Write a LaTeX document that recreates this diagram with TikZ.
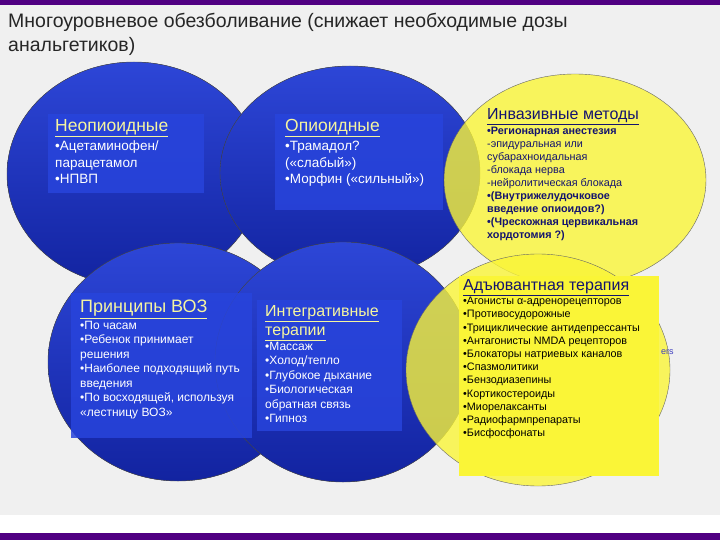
\documentclass[tikz,border=0pt]{standalone}
\usepackage{fontspec}
\setmainfont{Liberation Sans}
\begin{document}
\begin{tikzpicture}[x=1pt,y=-1pt,
  blob/.style={draw=black!70,line width=0.4pt,top color=blueT,bottom color=blueB},
  ybl/.style={draw=black!60,line width=0.4pt,fill=yel,fill opacity=0.8},
  bbox/.style={fill=boxblue,fill opacity=0.85,draw=none},
  wtxt/.style={anchor=north west,align=left,text=white,inner sep=0pt},
  htxt/.style={anchor=north west,align=left,text=headyel,inner sep=0pt},
]
\definecolor{blueT}{RGB}{45,70,215}
\definecolor{blueB}{RGB}{18,35,160}
\definecolor{boxblue}{RGB}{40,68,220}
\definecolor{yel}{RGB}{250,245,55}
\definecolor{headyel}{RGB}{245,245,160}
\definecolor{navy}{RGB}{20,20,110}
\definecolor{purp}{RGB}{80,0,130}
\useasboundingbox (0,0) rectangle (720,540);
\fill[white] (0,0) rectangle (720,540);
\fill[black!6] (0,5) rectangle (720,515);
\fill[purp] (0,0) rectangle (720,5);
\fill[purp] (0,533) rectangle (720,540);
\node[anchor=north west,align=left,inner sep=0pt,font=\fontsize{19.5}{24}\selectfont,text=black!85] (title) at (8,13)
 {Многоуровневое обезболивание (снижает необходимые дозы\\анальгетиков)};
% blue circles
\fill[blob] (134,174) ellipse [x radius=127,y radius=112];
\fill[blob] (350,173) ellipse [x radius=130,y radius=107];
\fill[blob] (178,362) ellipse [x radius=130,y radius=119];
\fill[blob] (343,362) ellipse [x radius=128,y radius=120];
% boxes
\fill[bbox] (48,114) rectangle (204,193);
\fill[bbox] (275,114) rectangle (443,210);
\fill[bbox] (71,293) rectangle (252,438);
\fill[bbox] (257,300) rectangle (402,431);
% yellow
\filldraw[ybl] (575,180) ellipse [x radius=131,y radius=106];
\filldraw[ybl] (538,370) ellipse [x radius=132,y radius=116];
\fill[yel] (459,276) rectangle (659,476);
% texts
\node[htxt,font=\fontsize{17.5}{20}\selectfont] (h1) at (55,119) {\underline{Неопиоидные}};
\node[wtxt,font=\fontsize{13.5}{16.5}\selectfont] (t1) at (55,141) {•Ацетаминофен/\\парацетамол\\•НПВП};
\node[htxt,font=\fontsize{17.5}{20}\selectfont] (h2) at (285,119) {\underline{Опиоидные}};
\node[wtxt,font=\fontsize{13.5}{16.5}\selectfont] (t2) at (285,141) {•Трамадол?\\(«слабый»)\\•Морфин («сильный»)};
\node[htxt,text=navy,font=\fontsize{16}{18}\selectfont] (h3) at (487,108) {\underline{Инвазивные методы}};
\node[wtxt,text=navy,font=\fontsize{10.8}{13}\selectfont] (t3) at (487,127)
 {\textbf{•Регионарная анестезия}\\-эпидуральная или\\субарахноидальная\\-блокада нерва\\-нейролитическая блокада\\\textbf{•(Внутрижелудочковое}\\\textbf{введение опиоидов?)}\\\textbf{•(Чрескожная цервикальная}\\\textbf{хордотомия ?)}};
\node[htxt,text=navy,font=\fontsize{16}{18}\selectfont] (h6) at (463,279) {\underline{Адъювантная терапия}};
\node[wtxt,text=black,font=\fontsize{10.8}{13.2}\selectfont] (t6) at (463,297)
 {•Агонисты α-адренорецепторов\\•Противосудорожные\\•Трициклические антидепрессанты\\•Антагонисты NMDA рецепторов\\•Блокаторы натриевых каналов\\•Спазмолитики\\•Бензодиазепины\\•Кортикостероиды\\•Миорелаксанты\\•Радиофармпрепараты\\•Бисфосфонаты};
\node[htxt,font=\fontsize{18}{20}\selectfont] (h4) at (80,300) {\underline{Принципы ВОЗ}};
\node[wtxt,font=\fontsize{12}{14.5}\selectfont] (t4) at (80,321)
 {•По часам\\•Ребенок принимает\\решения\\•Наиболее подходящий путь\\введения\\•По восходящей, используя\\«лестницу ВОЗ»};
\node[htxt,font=\fontsize{16}{19.5}\selectfont] (h5) at (265,305) {\underline{Интегративные}\\\underline{терапии}};
\node[wtxt,font=\fontsize{12}{14.4}\selectfont] (t5) at (265,342)
 {•Массаж\\•Холод/тепло\\•Глубокое дыхание\\•Биологическая\\обратная связь\\•Гипноз};
\node[anchor=west,inner sep=0pt,text=blue!50!gray,font=\fontsize{9}{9}\selectfont] (ers) at (661,352) {ers};
\end{tikzpicture}
\end{document}
